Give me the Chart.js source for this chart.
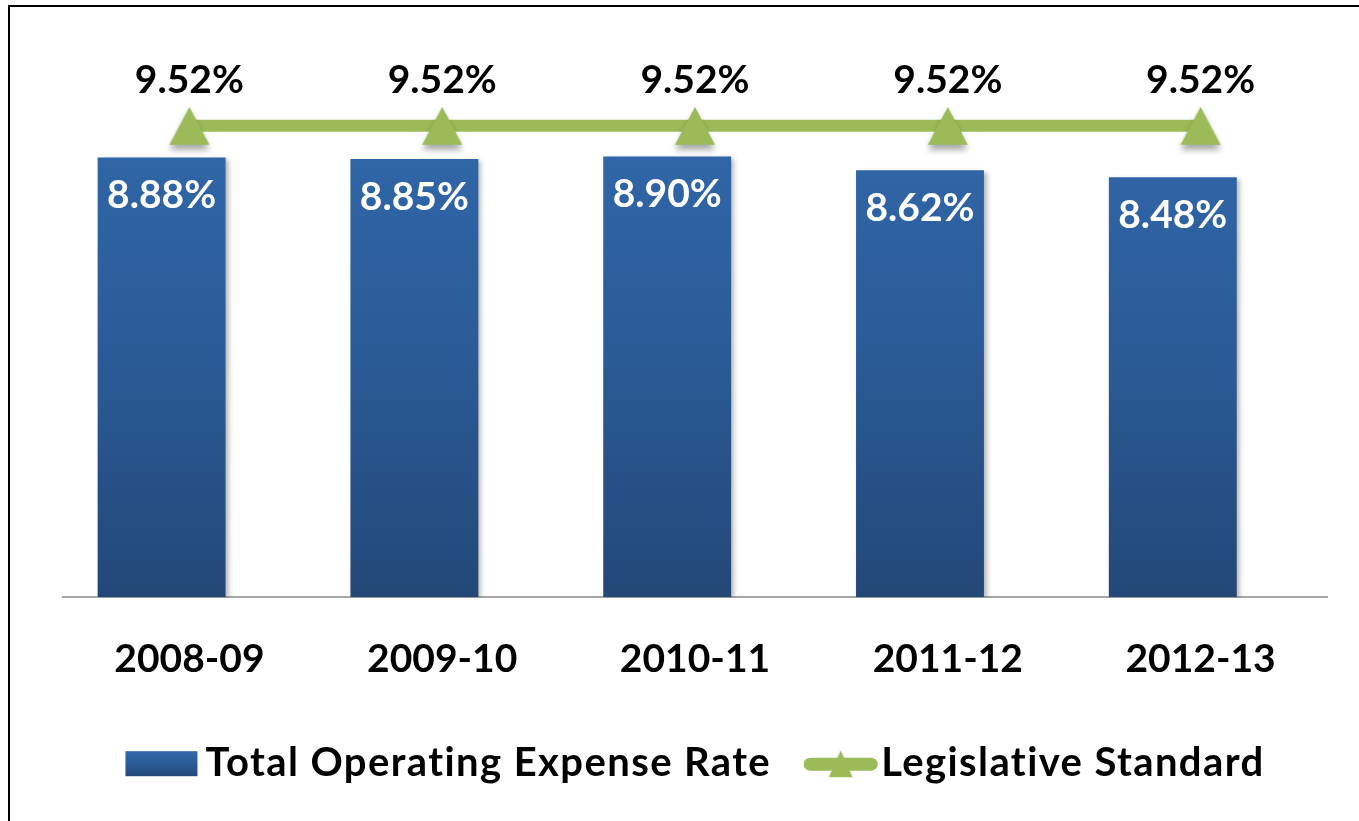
<!DOCTYPE html>
<html>
<head>
<meta charset="utf-8">
<title>Operating Expense Rate</title>
<script src="https://cdn.jsdelivr.net/npm/chart.js@4.4.1/dist/chart.umd.min.js"></script>
<style>
    html, body { margin: 0; padding: 0; background: #fff; overflow: hidden; }
    #frame {
        position: absolute; left: 8px; top: 5px; width: 1400px; height: 900px;
        border-top: 2px solid #000; border-left: 2px solid #000;
    }
    #chartBox { position: absolute; left: 0; top: 0; }
</style>
</head>
<body>
<div id="frame"></div>
<div id="chartBox"><canvas id="chartContainer" width="1359" height="821"></canvas></div>
<script>
var years = ['2008-09', '2009-10', '2010-11', '2011-12', '2012-13'];
var expenseRate = [8.88, 8.85, 8.90, 8.62, 8.48];
var legislativeStandard = [9.52, 9.52, 9.52, 9.52, 9.52];
var seriesNames = ['Total Operating Expense Rate', 'Legislative Standard'];

var FONT = 'Lato, "Open Sans", sans-serif';
var GREEN = '#9bbb59';

// triangle marker with a soft drop shadow underneath
function makeTriangle(w, h, shadow) {
    var c = document.createElement('canvas');
    c.width = w + 24;
    c.height = h + 24;
    var g = c.getContext('2d');
    var cx = c.width / 2, cy = c.height / 2;
    if (shadow) {
        g.shadowColor = 'rgba(0,0,0,0.35)';
        g.shadowBlur = 6;
        g.shadowOffsetY = 5;
    }
    g.fillStyle = GREEN;
    g.beginPath();
    g.moveTo(cx, cy - h / 2);
    g.lineTo(cx + w / 2, cy + h / 2);
    g.lineTo(cx - w / 2, cy + h / 2);
    g.closePath();
    g.fill();
    return c;
}
var marker = makeTriangle(40, 38, true);

function barGradient(ctx, area) {
    var grad = ctx.createLinearGradient(0, area.top, 0, area.bottom);
    grad.addColorStop(0, '#3168ab');
    grad.addColorStop(0.5, '#2b5b97');
    grad.addColorStop(1, '#234878');
    return grad;
}

// bars sit a little left of the category centre, the line stays centred
var barNudge = {
    id: 'barNudge',
    afterDatasetsUpdate: function(chart) {
        var xs = chart.scales.x;
        var step = xs.width / chart.data.labels.length;
        chart.getDatasetMeta(0).data.forEach(function(el) {
            el.x -= step * 0.11;
        });
    }
};

var shadows = {
    id: 'shadows',
    beforeDatasetDraw: function(chart, args) {
        var ctx = chart.ctx;
        ctx.save();
        if (args.index === 0) {
            ctx.shadowColor = 'rgba(0,0,0,0.3)';
            ctx.shadowBlur = 5;
            ctx.shadowOffsetX = 3;
            ctx.shadowOffsetY = 2;
        }
    },
    afterDatasetDraw: function(chart) {
        chart.ctx.restore();
    }
};

var valueLabels = {
    id: 'valueLabels',
    afterDatasetsDraw: function(chart) {
        var ctx = chart.ctx;
        ctx.save();
        ctx.font = 'bold 39px ' + FONT;
        ctx.textAlign = 'center';
        ctx.textBaseline = 'middle';
        chart.getDatasetMeta(0).data.forEach(function(el, i) {
            ctx.fillStyle = '#ffffff';
            ctx.fillText(expenseRate[i].toFixed(2) + '%', el.x, el.y + 38);
        });
        chart.getDatasetMeta(1).data.forEach(function(el, i) {
            ctx.fillStyle = '#000000';
            ctx.fillText(legislativeStandard[i].toFixed(2) + '%', el.x, el.y - 45);
        });
        ctx.restore();
    }
};

var bottomLegend = {
    id: 'bottomLegend',
    afterDraw: function(chart) {
        var ctx = chart.ctx;
        var area = chart.chartArea;
        var y = area.bottom + 166;
        ctx.save();
        ctx.font = 'bold 40px ' + FONT;
        ctx.letterSpacing = '1.4px';
        ctx.textBaseline = 'middle';
        var w0 = ctx.measureText(seriesNames[0]).width;
        var w1 = ctx.measureText(seriesNames[1]).width;
        var total = 72 + 8 + w0 + 33 + 73 + 4 + w1;
        var x = (area.left + area.right) / 2 - total / 2;

        ctx.fillStyle = barGradient(ctx, {top: y - 12, bottom: y + 13});
        ctx.fillRect(x, y - 12, 72, 25);
        x += 80;
        ctx.fillStyle = '#000';
        ctx.fillText(seriesNames[0], x, y);
        x += w0 + 33;

        ctx.strokeStyle = GREEN;
        ctx.lineWidth = 13;
        ctx.lineCap = 'round';
        ctx.beginPath();
        ctx.moveTo(x + 6, y + 1);
        ctx.lineTo(x + 67, y + 1);
        ctx.stroke();
        ctx.drawImage(makeTriangle(24, 27, false), x + 36.5 - 24, y - 25);
        x += 77;
        ctx.fillStyle = '#000';
        ctx.fillText(seriesNames[1], x, y);
        ctx.restore();
    }
};

var ctx = document.getElementById('chartContainer').getContext('2d');
new Chart(ctx, {
    data: {
        labels: years,
        datasets: [{
            type: 'bar',
            label: seriesNames[0],
            data: expenseRate,
            backgroundColor: function(c) {
                var area = c.chart.chartArea;
                if (!area) return '#2b5b97';
                return barGradient(c.chart.ctx, area);
            },
            borderWidth: 0,
            barPercentage: 0.506,
            categoryPercentage: 1,
            order: 2
        }, {
            type: 'line',
            label: seriesNames[1],
            data: legislativeStandard,
            borderColor: GREEN,
            borderWidth: 12,
            pointStyle: marker,
            pointRadius: 20,
            fill: false,
            order: 1
        }]
    },
    options: {
        responsive: false,
        animation: false,
        layout: { padding: { left: 63, right: 21, top: 102, bottom: 107 } },
        plugins: {
            legend: { display: false },
            tooltip: { enabled: false }
        },
        scales: {
            x: {
                offset: true,
                grid: { display: false },
                border: { display: true, color: '#a6a6a6', width: 2 },
                ticks: {
                    color: '#000',
                    padding: 31,
                    font: { family: FONT, size: 39, weight: 'bold' }
                }
            },
            y: {
                display: false,
                min: 0,
                max: 10
            }
        }
    },
    plugins: [barNudge, shadows, valueLabels, bottomLegend]
});
</script>
</body>
</html>
